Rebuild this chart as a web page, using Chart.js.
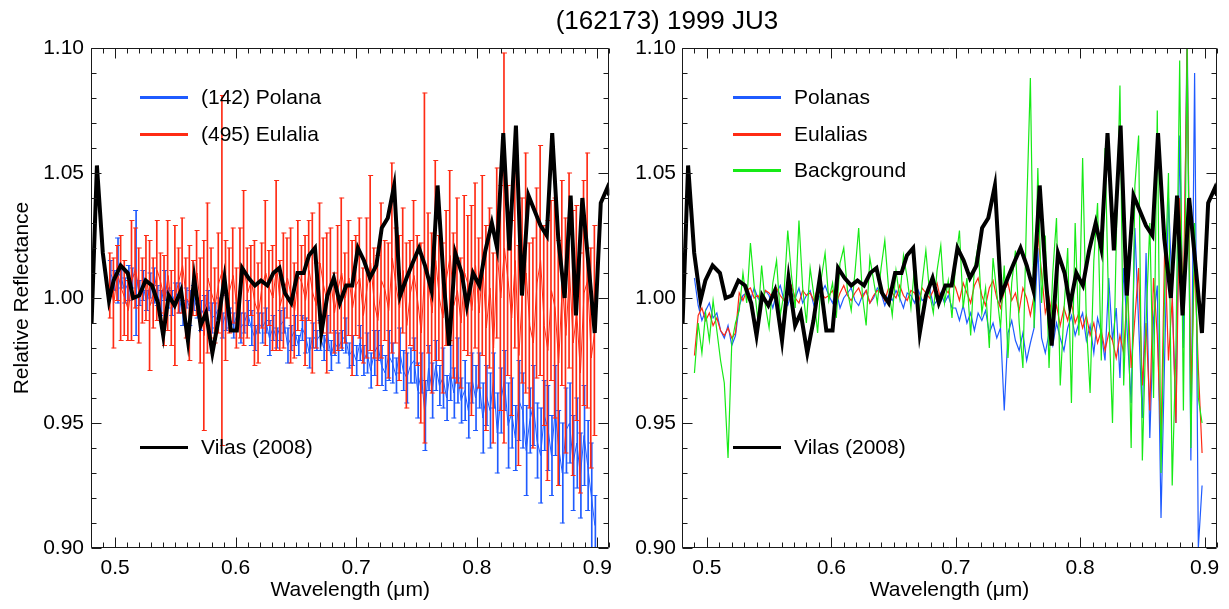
<!DOCTYPE html>
<html>
<head>
<meta charset="utf-8">
<title>(162173) 1999 JU3</title>
<script src="https://cdn.jsdelivr.net/npm/chart.js@4.4.1/dist/chart.umd.min.js"></script>
<style>
  html, body { margin: 0; padding: 0; background: #fff; }
  #fig { position: relative; width: 1229px; height: 609px; overflow: hidden;
         font-family: "Liberation Sans", Arial, sans-serif; color: #000; }
  #fig canvas { position: absolute; top: 0; }
  #leftChart { left: 0; }
  #rightChart { left: 620px; }
  .title { position: absolute; left: 467px; width: 400px; top: 5px; text-align: center;
           font-size: 26px; line-height: 30px; }
  .leg { position: absolute; display: flex; align-items: center; transform: translateY(-50%);
         font-size: 21px; line-height: 24px; white-space: nowrap; }
  .leg .sw { display: inline-block; width: 48px; height: 3px; margin-right: 13px; }
</style>
</head>
<body>
<div id="fig">
  <canvas id="leftChart" width="620" height="609"></canvas>
  <canvas id="rightChart" width="609" height="609"></canvas>
  <div class="title">(162173) 1999 JU3</div>

  <div class="leg" style="left:140px; top:97px"><span class="sw" style="background:#1f5bff"></span>(142) Polana</div>
  <div class="leg" style="left:140px; top:134px"><span class="sw" style="background:#ff2b14"></span>(495) Eulalia</div>
  <div class="leg" style="left:140px; top:447px"><span class="sw" style="background:#000"></span>Vilas (2008)</div>

  <div class="leg" style="left:733px; top:97px"><span class="sw" style="background:#1f5bff"></span>Polanas</div>
  <div class="leg" style="left:733px; top:134px"><span class="sw" style="background:#ff2b14"></span>Eulalias</div>
  <div class="leg" style="left:733px; top:170px"><span class="sw" style="background:#16ea16"></span>Background</div>
  <div class="leg" style="left:733px; top:447px"><span class="sw" style="background:#000"></span>Vilas (2008)</div>
</div>

<script>
// Grille de longueurs d'onde des spectres (µm)
const wavelengths = [
  0.490, 0.493, 0.496, 0.499, 0.502, 0.505, 0.508, 0.511, 0.514, 0.517,
  0.520, 0.523, 0.526, 0.529, 0.532, 0.535, 0.538, 0.541, 0.544, 0.547,
  0.550, 0.553, 0.556, 0.559, 0.562, 0.565, 0.568, 0.571, 0.574, 0.577,
  0.580, 0.583, 0.586, 0.589, 0.592, 0.595, 0.598, 0.601, 0.604, 0.607,
  0.610, 0.613, 0.616, 0.619, 0.622, 0.625, 0.628, 0.631, 0.634, 0.637,
  0.640, 0.643, 0.646, 0.649, 0.652, 0.655, 0.658, 0.661, 0.664, 0.667,
  0.670, 0.673, 0.676, 0.679, 0.682, 0.685, 0.688, 0.691, 0.694, 0.697,
  0.700, 0.703, 0.706, 0.709, 0.712, 0.715, 0.718, 0.721, 0.724, 0.727,
  0.730, 0.733, 0.736, 0.739, 0.742, 0.745, 0.748, 0.751, 0.754, 0.757,
  0.760, 0.763, 0.766, 0.769, 0.772, 0.775, 0.778, 0.781, 0.784, 0.787,
  0.790, 0.793, 0.796, 0.799, 0.802, 0.805, 0.808, 0.811, 0.814, 0.817,
  0.820, 0.823, 0.826, 0.829, 0.832, 0.835, 0.838, 0.841, 0.844, 0.847,
  0.850, 0.853, 0.856, 0.859, 0.862, 0.865, 0.868, 0.871, 0.874, 0.877,
  0.880, 0.883, 0.886, 0.889, 0.892, 0.895, 0.898
]

// Panneau gauche : (142) Polana et barres d'erreur
const polana = [
  null, null, 1.010, 1.007, 1.011, 1.008, 1.003, 1.006, 1.008, 1.010,
  1.002, 1.005, 0.999, 1.005, 1.005, 1.001, 0.998, 1.005, 1.000, 0.998,
  1.002, 1.000, 0.994, 1.000, 0.996, 1.000, 0.996, 0.993, 0.996, 0.999,
  0.992, 0.993, 0.996, 0.989, 0.994, 0.992, 0.989, 0.993, 0.988, 0.990,
  0.994, 0.988, 0.984, 0.990, 0.988, 0.991, 0.984, 0.988, 0.984, 0.989,
  0.991, 0.981, 0.984, 0.987, 0.981, 0.988, 0.985, 0.978, 0.985, 0.983,
  0.985, 0.980, 0.986, 0.977, 0.982, 0.980, 0.983, 0.985, 0.977, 0.979,
  0.975, 0.982, 0.975, 0.978, 0.971, 0.978, 0.981, 0.973, 0.970, 0.977,
  0.974, 0.969, 0.979, 0.971, 0.968, 0.973, 0.975, 0.963, 0.970, 0.953,
  0.972, 0.963, 0.973, 0.965, 0.968, 0.960, 0.970, 0.962, 0.971, 0.959,
  0.963, 0.955, 0.968, 0.960, 0.967, 0.952, 0.961, 0.955, 0.967, 0.946,
  0.959, 0.967, 0.949, 0.954, 0.944, 0.959, 0.955, 0.939, 0.951, 0.957,
  0.943, 0.937, 0.953, 0.948, 0.937, 0.955, 0.940, 0.930, 0.947, 0.950,
  0.934, 0.942, 0.929, 0.945, 0.933, 0.921, 0.909
]
const polanaErr = [
  null, null, 0.005, 0.004, 0.013, 0.004, 0.005, 0.007, 0.004, 0.025,
  0.005, 0.006, 0.004, 0.005, 0.007, 0.004, 0.005, 0.006, 0.004, 0.005,
  0.004, 0.006, 0.005, 0.004, 0.007, 0.005, 0.004, 0.006, 0.005, 0.004,
  0.006, 0.005, 0.004, 0.005, 0.007, 0.004, 0.005, 0.005, 0.006, 0.004,
  0.005, 0.007, 0.005, 0.004, 0.006, 0.005, 0.007, 0.005, 0.004, 0.006,
  0.005, 0.007, 0.005, 0.006, 0.004, 0.005, 0.007, 0.006, 0.005, 0.004,
  0.006, 0.005, 0.007, 0.006, 0.005, 0.006, 0.004, 0.007, 0.005, 0.006,
  0.006, 0.007, 0.006, 0.008, 0.007, 0.009, 0.006, 0.008, 0.007, 0.010,
  0.008, 0.007, 0.009, 0.008, 0.010, 0.007, 0.009, 0.011, 0.008, 0.014,
  0.009, 0.011, 0.010, 0.008, 0.012, 0.009, 0.011, 0.010, 0.013, 0.009,
  0.012, 0.011, 0.010, 0.013, 0.011, 0.014, 0.012, 0.015, 0.011, 0.016,
  0.013, 0.012, 0.017, 0.014, 0.013, 0.016, 0.015, 0.018, 0.013, 0.016,
  0.015, 0.019, 0.014, 0.017, 0.016, 0.018, 0.015, 0.020, 0.017, 0.016,
  0.019, 0.018, 0.017, 0.020, 0.018, 0.021, 0.012
]

// Panneau gauche : (495) Eulalia et barres d'erreur
const eulalia = [
  null, null, 1.005, 0.998, 1.010, 1.004, 1.000, 0.995, 1.007, 1.012,
  1.001, 1.003, 1.008, 0.997, 1.002, 1.011, 1.006, 0.999, 1.009, 0.996,
  1.001, 1.007, 1.013, 1.000, 0.998, 1.004, 1.010, 0.995, 0.985, 1.008,
  1.002, 0.997, 1.006, 1.011, 0.999, 1.003, 1.009, 0.996, 1.006, 1.012,
  1.002, 1.007, 0.998, 0.994, 1.005, 1.010, 1.004, 1.000, 1.013, 0.997,
  1.003, 1.008, 1.001, 0.995, 1.009, 1.006, 0.999, 1.011, 1.002, 0.997,
  1.014, 1.005, 0.998, 1.007, 0.994, 1.004, 1.010, 1.000, 1.008, 0.996,
  1.005, 1.008, 0.993, 1.004, 1.014, 0.998, 0.991, 1.007, 1.003, 0.995,
  1.016, 1.005, 0.996, 1.011, 0.989, 1.002, 1.009, 0.999, 0.986, 1.012,
  1.006, 0.994, 1.015, 1.000, 0.992, 1.008, 1.017, 0.997, 1.003, 0.990,
  1.010, 1.005, 0.995, 1.013, 0.994, 1.013, 0.988, 1.004, 0.980, 1.018,
  1.000, 1.020, 1.007, 0.992, 1.015, 0.977, 1.003, 1.010, 0.989, 0.982,
  1.006, 1.015, 0.989, 0.979, 1.003, 0.996, 0.974, 1.006, 0.985, 1.011,
  0.982, 0.994, 0.970, 1.002, 1.007, 0.976, 0.987
]
const eulaliaErr = [
  null, null, 0.013, 0.018, 0.011, 0.021, 0.015, 0.012, 0.024, 0.016,
  0.019, 0.013, 0.017, 0.026, 0.014, 0.020, 0.012, 0.018, 0.022, 0.015,
  0.028, 0.013, 0.019, 0.016, 0.023, 0.011, 0.017, 0.021, 0.038, 0.030,
  0.018, 0.015, 0.020, 0.070, 0.024, 0.017, 0.019, 0.016, 0.022, 0.031,
  0.018, 0.014, 0.025, 0.020, 0.017, 0.029, 0.015, 0.021, 0.034, 0.018,
  0.023, 0.016, 0.027, 0.019, 0.022, 0.015, 0.026, 0.020, 0.032, 0.017,
  0.024, 0.019, 0.028, 0.021, 0.016, 0.025, 0.030, 0.018, 0.023, 0.027,
  0.020, 0.024, 0.019, 0.028, 0.035, 0.022, 0.026, 0.031, 0.020, 0.027,
  0.038, 0.023, 0.029, 0.025, 0.033, 0.021, 0.030, 0.026, 0.036, 0.070,
  0.028, 0.032, 0.040, 0.025, 0.030, 0.027, 0.034, 0.029, 0.037, 0.026,
  0.031, 0.028, 0.042, 0.033, 0.030, 0.036, 0.041, 0.032, 0.038, 0.034,
  0.045, 0.078, 0.038, 0.039, 0.035, 0.044, 0.037, 0.048, 0.033, 0.042,
  0.038, 0.046, 0.040, 0.052, 0.036, 0.044, 0.049, 0.041, 0.047, 0.039,
  0.053, 0.043, 0.048, 0.045, 0.051, 0.044, 0.042
]

// Panneau droit : Polanas, Eulalias, fond
const polanas = [
  1.008, 0.997, 0.991, 0.995, 0.998, 0.992, 0.994, 0.987, 0.984, 0.989,
  0.981, 0.985, 0.997, 1.001, 1.002, 0.999, 1.004, 1.000, 0.998, 1.003,
  1.001, 0.996, 1.002, 1.005, 0.999, 0.997, 1.002, 1.000, 1.004, 0.998,
  1.001, 1.003, 0.997, 0.999, 1.002, 1.005, 1.001, 0.998, 1.003, 0.996,
  1.000, 1.002, 1.004, 0.999, 0.997, 1.001, 1.003, 0.998, 1.000, 1.004,
  1.002, 0.997, 1.001, 0.999, 1.003, 1.000, 0.996, 1.002, 1.001, 0.998,
  1.003, 0.999, 1.000, 1.004, 0.997, 0.999, 1.002, 0.998, 1.001, 0.996,
  0.996, 0.991, 0.997, 0.990, 0.994, 0.987, 0.994, 0.991, 0.995, 0.986,
  0.990, 0.984, 0.988, 0.955, 0.986, 0.991, 0.983, 0.979, 0.986, 0.975,
  0.982, 0.988, 1.020, 0.984, 0.978, 0.986, 0.981, 0.990, 0.984, 0.979,
  0.988, 0.993, 0.985, 0.990, 0.994, 0.983, 0.989, 0.978, 0.992, 0.986,
  0.975, 1.008, 0.983, 0.996, 0.968, 1.012, 0.985, 0.958, 1.028, 0.990,
  0.952, 1.018, 0.944, 0.992, 1.005, 0.912, 0.978, 1.040, 1.002, 0.950,
  1.065, 0.980, 1.110, 0.935, 1.090, 0.900, 0.925
]
const eulalias = [
  0.977, 0.993, 0.996, 0.991, 0.994, 0.989, 0.992, 0.987, 0.985, 0.988,
  0.984, 0.986, 1.002, 0.999, 1.003, 1.004, 1.000, 1.001, 0.998, 1.003,
  1.002, 1.000, 1.004, 1.001, 0.999, 1.002, 1.005, 1.000, 0.998, 1.003,
  1.001, 1.002, 0.999, 1.004, 1.002, 1.000, 1.001, 1.003, 0.998, 1.002,
  1.005, 1.001, 0.999, 1.002, 1.004, 1.000, 1.003, 0.998, 1.001, 1.003,
  1.002, 0.999, 1.004, 1.002, 1.000, 1.005, 1.001, 0.999, 1.003, 1.002,
  0.998, 1.004, 1.002, 1.000, 1.003, 1.006, 0.999, 1.004, 1.002, 1.007,
  1.004, 0.999, 1.006, 1.002, 0.998, 1.005, 1.008, 1.001, 0.997, 1.004,
  1.007, 1.000, 0.996, 1.003, 1.006, 0.999, 1.002, 0.995, 1.004, 1.000,
  0.993, 1.001, 1.026, 1.010, 0.994, 1.000, 0.992, 0.997, 0.989, 0.996,
  0.991, 0.998, 0.990, 0.994, 0.988, 0.993, 0.985, 0.990, 0.982, 0.987,
  0.979, 0.986, 0.983, 0.976, 0.985, 0.978, 1.004, 0.972, 0.992, 1.012,
  0.965, 0.990, 0.955, 1.008, 0.985, 0.942, 1.022, 0.975, 1.000, 0.950,
  1.040, 1.000, 1.100, 0.962, 1.015, 0.972, 0.938
]
const background = [
  0.970, 0.990, 0.978, 0.994, 0.983, 0.999, 0.987, 0.975, 0.966, 0.936,
  0.982, 0.990, 0.995, 1.010, 0.998, 1.022, 1.005, 0.991, 1.013, 0.997,
  0.988, 1.006, 1.015, 0.993, 1.002, 1.027, 1.009, 0.996, 1.031, 1.004,
  0.990, 1.012, 1.001, 0.986, 1.008, 1.018, 0.999, 1.006, 0.992, 1.014,
  1.020, 1.003, 0.995, 1.010, 1.028, 1.001, 0.989, 1.016, 1.007, 0.998,
  1.012, 1.023, 1.004, 0.993, 1.011, 1.000, 1.017, 1.008, 0.996, 1.013,
  0.990, 1.006, 1.019, 1.002, 0.994, 1.011, 1.021, 0.998, 1.007, 0.992,
  1.015, 1.027, 0.996, 1.008, 0.985, 1.012, 1.021, 0.994, 1.004, 0.980,
  1.016, 1.002, 0.988, 1.013, 0.976, 1.006, 1.019, 0.990, 0.972, 1.035,
  1.088, 0.988, 1.052, 0.998, 1.025, 0.972, 1.010, 1.032, 0.965, 0.995,
  1.020, 0.958, 1.030, 0.985, 1.056, 0.990, 0.962, 1.015, 1.038, 0.975,
  1.060, 0.995, 0.950, 1.022, 1.085, 0.965, 1.010, 0.940, 1.045, 1.065,
  0.935, 0.990, 1.030, 0.960, 1.075, 0.930, 1.005, 1.050, 0.925, 0.980,
  1.095, 0.955, 1.100, 0.940, 1.030, 0.960, 0.950
]

// Spectre de Vilas (2008), commun aux deux panneaux
const vilasWavelengths = [
  0.4805, 0.4849, 0.4898, 0.4949, 0.4988, 0.5046, 0.5105, 0.5150, 0.5200, 0.5253,
  0.5306, 0.5356, 0.5399, 0.5444, 0.5494, 0.5547, 0.5604, 0.5656, 0.5709, 0.5754,
  0.5807, 0.5857, 0.5907, 0.5960, 0.6010, 0.6054, 0.6107, 0.6160, 0.6210, 0.6263,
  0.6313, 0.6363, 0.6408, 0.6461, 0.6513, 0.6564, 0.6608, 0.6658, 0.6711, 0.6761,
  0.6814, 0.6864, 0.6917, 0.6967, 0.7014, 0.7064, 0.7114, 0.7167, 0.7212, 0.7262,
  0.7315, 0.7365, 0.7418, 0.7468, 0.7521, 0.7571, 0.7625, 0.7675, 0.7727, 0.7771,
  0.7822, 0.7875, 0.7918, 0.7969, 0.8022, 0.8072, 0.8125, 0.8169, 0.8220, 0.8271,
  0.8325, 0.8375, 0.8429, 0.8479, 0.8529, 0.8581, 0.8626, 0.8676, 0.8729, 0.8779,
  0.8823, 0.8876, 0.8926, 0.8979, 0.9029, 0.9083, 0.9100
]
const vilas = [
  0.990, 1.053, 1.018, 0.999, 1.007, 1.013, 1.010, 1.000, 1.001, 1.007,
  1.005, 0.998, 0.985, 1.001, 0.997, 1.003, 0.983, 1.008, 0.989, 0.994,
  0.978, 0.991, 1.008, 0.987, 0.987, 1.012, 1.008, 1.005, 1.007, 1.005,
  1.010, 1.012, 1.002, 0.998, 1.010, 1.010, 1.017, 1.020, 0.986, 1.001,
  1.008, 0.998, 1.005, 1.005, 1.020, 1.015, 1.008, 1.013, 1.028, 1.032,
  1.045, 1.001, 1.008, 1.014, 1.020, 1.013, 1.003, 1.045, 1.006, 0.981,
  1.018, 1.010, 0.997, 1.010, 1.005, 1.019, 1.030, 1.020, 1.066, 1.019,
  1.069, 1.001, 1.041, 1.035, 1.029, 1.025, 1.066, 1.024, 1.000, 1.041,
  0.993, 1.040, 1.014, 0.986, 1.038, 1.044, 1.041
]

// Graduations des axes
const xTickValues = [0.5, 0.6, 0.7, 0.8, 0.9]
const xTickLabels = ["0.5", "0.6", "0.7", "0.8", "0.9"]
const yTickValues = [0.90, 0.95, 1.00, 1.05, 1.10]
const yTickLabels = ["0.90", "0.95", "1.00", "1.05", "1.10"]

const BLUE = "#1f5bff"
const RED = "#ff2b14"
const GREEN = "#16ea16"

Chart.defaults.font.family = '"Liberation Sans", Arial, sans-serif'
Chart.defaults.font.size = 21
Chart.defaults.color = "#000"

// Points {x, y} à partir de deux listes
function toPoints(xs, ys) {
  return xs.map((x, i) => ({ x: x, y: ys[i] })).filter((p) => p.y !== null)
}
// Barres flottantes [bas, haut] pour les erreurs
function toRanges(xs, ys, errs) {
  return xs.map((x, i) => (ys[i] === null ? null : { x: x, y: [ys[i] - errs[i], ys[i] + errs[i]] })).filter((p) => p)
}
function toEnds(xs, ys, errs, sign) {
  return xs.map((x, i) => (ys[i] === null ? null : { x: x, y: ys[i] + sign * errs[i] })).filter((p) => p)
}

function lineSet(data, color, width, order) {
  return { type: "line", data: data, borderColor: color, borderWidth: width, pointRadius: 0, tension: 0, order: order }
}
function barSet(data, color, order) {
  return { type: "bar", data: data, backgroundColor: color, borderWidth: 0, barThickness: 1, order: order }
}
function capSet(data, color, order) {
  return { type: "line", data: data, showLine: false, pointStyle: "line", pointRadius: 2.5,
           pointBorderColor: color, pointBorderWidth: 1, order: order }
}

// Cadre et graduations intérieures sur les quatre côtés
const frameTicks = {
  id: "frameTicks",
  afterDatasetsDraw(chart) {
    const { ctx, chartArea: a, scales: { x, y } } = chart
    const L = Math.round(a.left) + 0.5, R = Math.round(a.right) - 0.5
    const T = Math.round(a.top) + 0.5, B = Math.round(a.bottom) - 0.5
    ctx.save()
    ctx.strokeStyle = "#1a1a1a"
    ctx.lineWidth = 1
    ctx.beginPath()
    ctx.rect(L, T, R - L, B - T)
    for (let i = 48; i <= 91; i++) {
      const px = Math.round(x.getPixelForValue(i / 100)) + 0.5
      const len = i % 10 === 0 ? 10 : 5
      ctx.moveTo(px, B); ctx.lineTo(px, B - len)
      ctx.moveTo(px, T); ctx.lineTo(px, T + len)
    }
    for (let i = 90; i <= 110; i++) {
      const py = Math.round(y.getPixelForValue(i / 100)) + 0.5
      const len = i % 5 === 0 ? 10 : 5
      ctx.moveTo(L, py); ctx.lineTo(L + len, py)
      ctx.moveTo(R, py); ctx.lineTo(R - len, py)
    }
    ctx.stroke()
    ctx.restore()
  },
}

function makeChart(id, datasets, yWidth, rightPad, yTitle, yPad) {
  return new Chart(document.getElementById(id), {
    type: "line",
    data: { datasets: datasets },
    plugins: [frameTicks],
    options: {
      responsive: false,
      animation: false,
      devicePixelRatio: 1,
      events: [],
      layout: { padding: { left: 0, top: 48, right: rightPad, bottom: 0 } },
      plugins: { legend: { display: false }, tooltip: { enabled: false } },
      scales: {
        x: {
          type: "linear", min: 0.48, max: 0.91, offset: false,
          grid: { display: false, drawTicks: false },
          border: { display: false },
          afterBuildTicks: (scale) => { scale.ticks = xTickValues.map((v) => ({ value: v })) },
          afterFit: (scale) => { scale.height = 61 },
          ticks: { autoSkip: false, maxRotation: 0, padding: 8, callback: (v, i) => xTickLabels[i] },
          title: { display: true, text: "Wavelength (μm)", padding: { top: 0, bottom: 6 } },
        },
        y: {
          type: "linear", min: 0.90, max: 1.10,
          grid: { display: false, drawTicks: false },
          border: { display: false },
          afterBuildTicks: (scale) => { scale.ticks = yTickValues.map((v) => ({ value: v })) },
          afterFit: (scale) => { scale.width = yWidth },
          ticks: { autoSkip: false, padding: yPad, callback: (v, i) => yTickLabels[i] },
          title: { display: yTitle, text: "Relative Reflectance", padding: { top: 10, bottom: 0 } },
        },
      },
    },
  })
}

// Panneau gauche
makeChart("leftChart", [
  lineSet(toPoints(vilasWavelengths, vilas), "#000", 4, 0),
  lineSet(toPoints(wavelengths, eulalia), RED, 1, 1),
  barSet(toRanges(wavelengths, eulalia, eulaliaErr), RED, 2),
  capSet(toEnds(wavelengths, eulalia, eulaliaErr, 1), RED, 2),
  capSet(toEnds(wavelengths, eulalia, eulaliaErr, -1), RED, 2),
  lineSet(toPoints(wavelengths, polana), BLUE, 1, 3),
  barSet(toRanges(wavelengths, polana, polanaErr), BLUE, 4),
  capSet(toEnds(wavelengths, polana, polanaErr, 1), BLUE, 4),
  capSet(toEnds(wavelengths, polana, polanaErr, -1), BLUE, 4),
], 91, 5, true, 7)

// Panneau droit
makeChart("rightChart", [
  lineSet(toPoints(vilasWavelengths, vilas), "#000", 4, 0),
  lineSet(toPoints(wavelengths, background), GREEN, 1.2, 1),
  lineSet(toPoints(wavelengths, eulalias), RED, 1.2, 2),
  lineSet(toPoints(wavelengths, polanas), BLUE, 1.2, 3),
], 62, 12, false, 6)
</script>
</body>
</html>
